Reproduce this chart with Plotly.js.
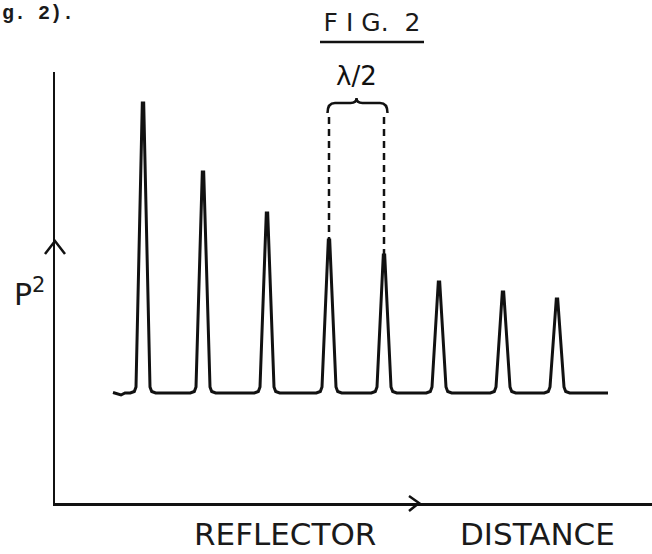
<!DOCTYPE html>
<html><head><meta charset="utf-8">
<script src="https://cdn.plot.ly/plotly-3.0.1.min.js"></script>
<style>html,body{margin:0;padding:0;background:#fff;}</style>
</head><body><div id="chart" style="width:652px;height:554px;"></div>
<script>
// ---- Data (arbitrary units) ----
const peakDistance = [8.8, 14.8, 21.2, 27.4, 32.9, 38.4, 44.8, 50.2];
const peakP2       = [40.0, 33.1, 29.0, 26.3, 24.8, 22.1, 21.1, 20.4];
const baselineP2   = 11.0;
const curveStart   = 5.8;
const curveEnd     = 55.3;
const bracketPeaks = [3, 4];          // peaks spanned by the λ/2 bracket
const titleText    = 'F\u00a0I\u00a0G.\u00a0\u00a02';
const xTitleWords  = ['REFLECTOR', 'DISTANCE'];
const yTitleText   = 'P<sup>2</sup>';
const halfWaveText = 'λ/2';
const pageFragment = 'g. 2).';

// ---- Build the peak curve from the peak data ----
const cx = [curveStart, curveStart + 0.8, curveStart + 1.2];
const cy = [baselineP2 + 0.05, baselineP2 - 0.2, baselineP2];
peakDistance.forEach((x0, i) => {
  const h = peakP2[i], b = baselineP2, hw = 0.72;
  cx.push(x0 - hw - 0.55, x0 - hw - 0.15, x0 - hw + 0.02, x0 - 0.07, x0 + 0.07, x0 + hw - 0.02, x0 + hw + 0.15, x0 + hw + 0.55);
  cy.push(b, b + 0.15, b + 0.6, h, h, b + 0.6, b + 0.15, b);
});
cx.push(curveEnd); cy.push(baselineP2);

const ink = '#111';
const traces = [{
  x: cx, y: cy, mode: 'lines', hoverinfo: 'skip',
  line: {color: ink, width: 3, shape: 'linear'}
}];

const bracketY = 38.6;
bracketPeaks.forEach(i => {
  traces.push({
    x: [peakDistance[i], peakDistance[i]], y: [bracketY, peakP2[i]],
    mode: 'lines', hoverinfo: 'skip',
    line: {color: ink, width: 2.5, dash: '7px,5px'}
  });
});

const x4 = peakDistance[bracketPeaks[0]], x5 = peakDistance[bracketPeaks[1]];
const xm = (x4 + x5) / 2;
const bracePath = `M ${x4-0.15},39.0 Q ${x4-0.15},40.0 ${x4+0.6},40.0 L ${xm-0.6},40.0 Q ${xm},40.0 ${xm},40.5 Q ${xm},40.0 ${xm+0.6},40.0 L ${x5-0.4},40.0 Q ${x5+0.35},40.0 ${x5+0.35},39.0`;

// helpers: pixel -> paper (plot area: x 55..652, y 503..72)
const PX = px => (px - 55) / 597;
const PY = py => (503 - py) / 431;

const layout = {
  width: 652, height: 554,
  margin: {l: 55, r: 0, t: 72, b: 51},
  paper_bgcolor: '#fff', plot_bgcolor: '#fff',
  showlegend: false,
  title: {
    text: titleText, xref: 'container', yref: 'container',
    x: 372 / 652, y: 1 - 22 / 554, xanchor: 'center', yanchor: 'middle',
    font: {family: 'DejaVu Sans', size: 25, color: '#1a1a1a'}
  },
  xaxis: {range: [0, 59.7], showline: true, linecolor: ink, linewidth: 2.5,
          showgrid: false, zeroline: false, showticklabels: false, ticks: '', fixedrange: true},
  yaxis: {range: [0, 43.1], showline: true, linecolor: ink, linewidth: 2.5,
          showgrid: false, zeroline: false, showticklabels: false, ticks: '', fixedrange: true},
  shapes: [
    {type: 'path', xref: 'x', yref: 'y', path: bracePath, line: {color: ink, width: 2.5}},
    {type: 'line', xref: 'paper', yref: 'paper', x0: PX(320), x1: PX(424), y0: PY(42), y1: PY(42), line: {color: ink, width: 2.5}},
    {type: 'path', xref: 'paper', yref: 'paper',
     path: `M ${PX(45)},${PY(254)} L ${PX(55)},${PY(241)} L ${PX(65)},${PY(254)}`, line: {color: ink, width: 2.5}},
    {type: 'path', xref: 'paper', yref: 'paper',
     path: `M ${PX(409)},${PY(496)} L ${PX(419)},${PY(503)} L ${PX(409)},${PY(511)}`, line: {color: ink, width: 2.5}}
  ],
  annotations: [
    {text: halfWaveText, xref: 'x', yref: 'y', x: xm, y: 42.7, showarrow: false,
     xanchor: 'center', yanchor: 'middle', font: {family: 'DejaVu Sans', size: 26, color: ink}},
    {text: yTitleText, xref: 'paper', yref: 'paper', x: PX(30), y: PY(292), showarrow: false,
     xanchor: 'center', yanchor: 'middle', font: {family: 'DejaVu Sans', size: 30, color: '#1a1a1a'}},
    {text: xTitleWords[0], xref: 'paper', yref: 'paper', x: PX(284.5), y: PY(534), showarrow: false,
     xanchor: 'center', yanchor: 'middle', borderpad: 0, font: {family: 'DejaVu Sans', size: 31, color: '#1a1a1a'}},
    {text: xTitleWords[1], xref: 'paper', yref: 'paper', x: PX(537), y: PY(534), showarrow: false,
     xanchor: 'center', yanchor: 'middle', borderpad: 0, font: {family: 'DejaVu Sans', size: 31, color: '#1a1a1a'}},
    {text: pageFragment, xref: 'paper', yref: 'paper', x: PX(1), y: PY(26), showarrow: false,
     xanchor: 'left', yanchor: 'bottom', borderpad: 0,
     font: {family: 'Liberation Mono', size: 20, color: '#1a1a1a', weight: 'bold'}}
  ]
};

Plotly.newPlot('chart', traces, layout, {staticPlot: true, displayModeBar: false});
</script>
</body></html>
